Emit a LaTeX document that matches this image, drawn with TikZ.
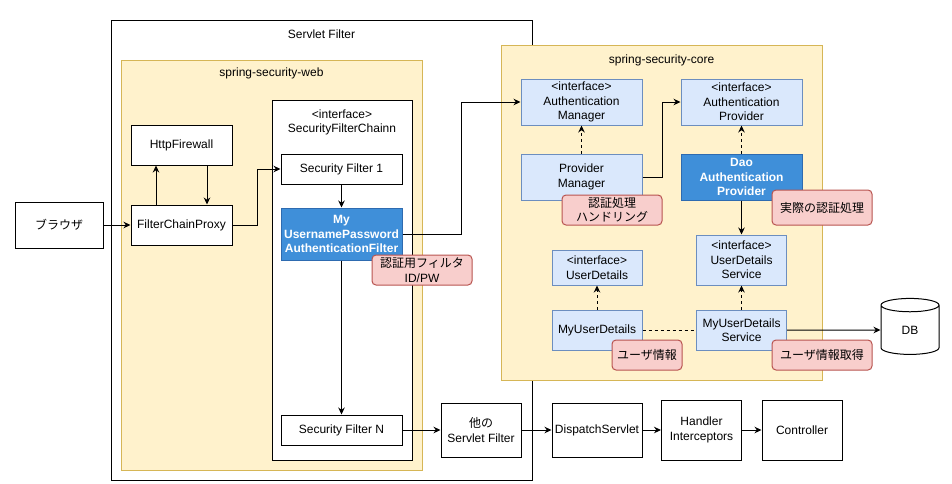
\documentclass[tikz,border=0pt]{standalone}
\usepackage{fontspec}
\setmainfont{Liberation Sans}
\newfontfamily\jp{Noto Sans CJK JP}
\usepackage{tikz}
\usetikzlibrary{arrows.meta,shapes.geometric}

\definecolor{grpfill}{HTML}{FFF2CC}
\definecolor{grpdraw}{HTML}{D6B656}
\definecolor{ltfill}{HTML}{DAE8FC}
\definecolor{ltdraw}{HTML}{6C8EBF}
\definecolor{dkfill}{HTML}{3F8FD9}
\definecolor{dkdraw}{HTML}{2E6BB0}
\definecolor{notefill}{HTML}{F8CECC}
\definecolor{notedraw}{HTML}{B85450}

\tikzset{
    box/.style={draw, fill=white, align=center, inner sep=0pt},
    ltbox/.style={box, draw=ltdraw, fill=ltfill},
    dkbox/.style={box, draw=dkdraw, fill=dkfill, text=white, font=\fontsize{12}{14.5}\selectfont\bfseries},
    note/.style={box, draw=notedraw, fill=notefill, rounded corners=4pt, minimum width=100, minimum height=30},
    group/.style={draw=grpdraw, fill=grpfill, inner sep=0pt},
    dep/.style={->, dash pattern=on 3pt off 3pt}
}

\begin{document}
\begin{tikzpicture}[x=1pt, y=-1pt, line width=1pt, font=\fontsize{12}{14.5}\selectfont,
    >={Stealth[length=7pt,width=6.5pt]}]
    \useasboundingbox (0,0) rectangle (952,483);

    % Groups
    \node[draw, inner sep=0pt, minimum width=421, minimum height=460,
        label={[anchor=north, inner sep=9.5pt]north:Servlet Filter}] (servlet) at (321.5,250) {};
    \node[group, minimum width=301, minimum height=410,
        label={[anchor=north, inner sep=7.5pt]north:spring-security-web}] (web) at (271.5,265) {};
    \node[draw, fill=white, inner sep=0pt, minimum width=140, minimum height=360,
        label={[anchor=north, align=center, inner sep=9.5pt]north:{<interface>\\SecurityFilterChainn}}] (chain) at (342,280) {};
    \node[group, minimum width=321, minimum height=335,
        label={[anchor=north, inner sep=9.5pt]north:spring-security-core}] (core) at (661.5,212.5) {};

    % Nodes
    \node[box, minimum width=88, minimum height=46] (browser) at (59,225) {\jp ブラウザ};
    \node[box, minimum width=101, minimum height=40] (firewall) at (181.5,145) {HttpFirewall};
    \node[box, minimum width=101, minimum height=40] (proxy) at (181.5,225) {FilterChainProxy};
    \node[box, minimum width=121, minimum height=30] (filter1) at (341.5,169) {Security Filter 1};
    \node[dkbox, minimum width=121, minimum height=52] (upfilter) at (341.5,234) {My\\UsernamePassword\\AuthenticationFilter};
    \node[box, minimum width=121, minimum height=30] (filterN) at (341.5,430) {Security Filter N};
    \node[note] (notefilter) at (422,270) {{\jp 認証用フィルタ}\\ID/PW};

    \node[box, minimum width=80, minimum height=54] (other) at (481,430) {{\jp 他の}\\Servlet Filter};
    \node[box, minimum width=90, minimum height=54] (dispatch) at (597,430) {DispatchServlet};
    \node[box, minimum width=80, minimum height=60] (handler) at (701.5,430) {Handler\\Interceptors};
    \node[box, minimum width=80, minimum height=60] (controller) at (802,430) {Controller};

    \node[ltbox, minimum width=121, minimum height=46] (authmgr) at (581.5,102) {<interface>\\Authentication\\Manager};
    \node[ltbox, minimum width=121, minimum height=46] (authprov) at (741.5,102) {<interface>\\Authentication\\Provider};
    \node[ltbox, minimum width=121, minimum height=46] (provmgr) at (581.5,177) {Provider\\Manager};
    \node[dkbox, minimum width=121, minimum height=46] (daoprov) at (741.5,177) {Dao\\Authentication\\Provider};
    \node[note] (notehandle) at (612,210) {{\jp 認証処理}\\{\jp ハンドリング}};
    \node[note, minimum height=35] (noteauth) at (822,207.5) {\jp 実際の認証処理};

    \node[ltbox, minimum width=90, minimum height=35] (userdet) at (597,267.5) {<interface>\\UserDetails};
    \node[ltbox, minimum width=90, minimum height=50] (udservice) at (741.5,260) {<interface>\\UserDetails\\Service};
    \node[ltbox, minimum width=90, minimum height=40] (myuserdet) at (597,330) {MyUserDetails};
    \node[ltbox, minimum width=90, minimum height=40] (myudservice) at (741.5,330) {MyUserDetails\\Service};
    \node[note, minimum width=70] (noteuser) at (647,355) {\jp ユーザ情報};
    \node[note] (notefetch) at (822,355) {\jp ユーザ情報取得};

    \node[cylinder, shape border rotate=90, draw, fill=white, aspect=0.8,
        minimum width=58, minimum height=56, inner sep=0pt] (db) at (910,330) {\raisebox{-6pt}{DB}};

    % Arrows
    \draw[->] (browser) -- (proxy);
    \draw[->] ([xshift=-25.5pt]proxy.north) -- ([xshift=-25.5pt]firewall.south);
    \draw[->] ([xshift=25.5pt]firewall.south) -- ([xshift=25.5pt]proxy.north);
    \draw[->] (proxy.east) -- ++(25,0) |- (filter1.west);
    \draw[->] (filter1) -- (upfilter);
    \draw[->] (upfilter) -- (filterN);
    \draw[->] (upfilter.east) -- ++(59,0) |- (authmgr.west);
    \draw[->] (filterN) -- (other);
    \draw[->] (other) -- (dispatch);
    \draw[->] (dispatch) -- (handler);
    \draw[->] (handler) -- (controller);

    \draw[dep] (provmgr) -- (authmgr);
    \draw[->] (provmgr.east) -- ++(19.5,0) |- (authprov.west);
    \draw[dep] (daoprov) -- (authprov);
    \draw[->] (daoprov) -- (udservice);
    \draw[dep] (myuserdet) -- (userdet);
    \draw[dep] (myudservice) -- (udservice);
    \draw[dash pattern=on 3pt off 3pt] (myuserdet) -- (myudservice);
    \draw[->] (myudservice) -- (db);

\end{tikzpicture}
\end{document}
